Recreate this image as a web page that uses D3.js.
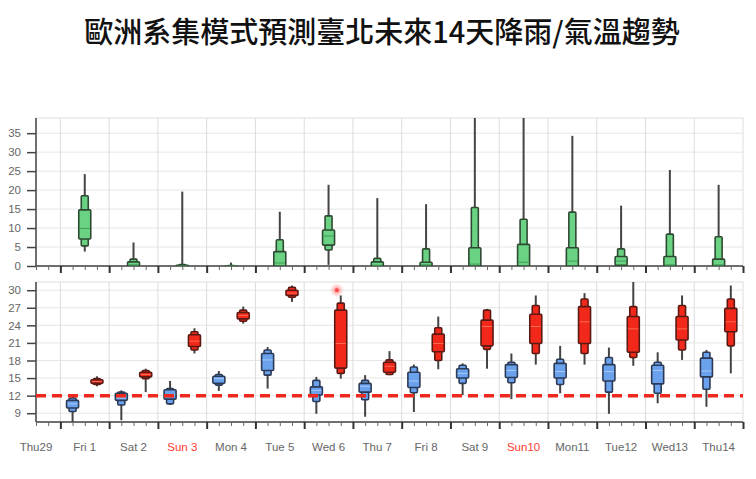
<!DOCTYPE html>
<html><head><meta charset="utf-8">
<script src="https://cdn.jsdelivr.net/npm/d3@7"></script>
<style>
body{margin:0;background:#fff;}
svg{display:block;font-family:"Liberation Sans","DejaVu Sans",sans-serif;}
</style></head>
<body>
<svg id="chart" width="756" height="479"></svg>
<script>
// ---- Data ----
const titleText = "歐洲系集模式預測臺北未來14天降雨/氣溫趨勢";
const dayLabels = ["Thu29","Fri 1","Sat 2","Sun 3","Mon 4","Tue 5","Wed 6","Thu 7","Fri 8","Sat 9","Sun10","Mon11","Tue12","Wed13","Thu14"];
const redDayLabels = ["Sun 3","Sun10"];
const forecastDays = [1,2,3,4,5,6,7,8,9,10,11,12,13,14];
const rainTicks = [0,5,10,15,20,25,30,35];
const tempTicks = [9,12,15,18,21,24,27,30];

// rain (mm) per day: min, p10, p25, median, p75, p90, max
const rainMin = [3.8,0,0,0,0,0.3,0,0,0,0,0,0,0,0];
const rainP10 = [5.3,0,0,0,0,4.2,0,0,0,0,0,0,0,0];
const rainP25 = [7.1,0,0,0,0,5.5,0,0,0,0,0,0.2,0,0];
const rainMed = [9.9,0.3,0,0,0.8,7.9,0.2,0.3,0.5,1.0,1.3,1.3,0.3,0.3];
const rainP75 = [14.8,1.1,0.2,0,3.8,9.5,1.1,1.0,4.8,5.7,4.8,2.5,2.5,1.8];
const rainP90 = [18.5,1.8,0.4,0.1,6.9,13.2,2.0,4.5,15.4,12.3,14.2,4.5,8.4,7.7];
const rainMax = [24.2,6.2,19.6,0.9,14.3,21.4,17.9,16.3,40,40,34.3,15.9,25.3,21.4];

// minimum temperature (°C)
const tminMin = [7.0,7.8,10.4,12.8,13.2,8.9,8.4,9.2,12.1,11.4,12.4,8.9,10.7,10.1];
const tminP10 = [9.3,10.4,10.6,13.8,15.5,11.0,11.3,12.5,14.1,14.2,13.9,12.6,12.4,13.1];
const tminP25 = [9.9,11.2,11.4,14.1,16.3,12.1,12.6,13.4,15.0,15.1,15.0,14.5,14.0,15.2];
const tminMed = [10.6,11.6,12.2,14.9,18.1,12.9,13.6,14.5,15.8,16.3,16.1,16.1,16.3,16.2];
const tminP75 = [11.2,12.4,13.0,15.3,19.2,13.5,14.1,16.0,16.6,17.3,17.5,17.3,17.2,18.4];
const tminP90 = [11.6,12.6,13.2,15.6,19.8,14.6,14.6,16.9,17.2,17.7,18.2,18.5,17.7,19.4];
const tminMax = [12.0,12.9,14.5,16.2,20.3,15.2,15.5,17.3,17.5,19.2,20.5,20.2,19.4,19.8];

// maximum temperature (°C)
const tmaxMin = [13.6,12.6,19.2,24.3,28.0,14.9,15.5,16.5,16.6,17.3,17.3,17.1,18.1,15.8];
const tmaxP10 = [13.9,14.9,19.8,24.7,28.8,15.8,15.6,18.0,19.9,19.2,19.2,18.5,19.8,20.5];
const tmaxP25 = [14.1,15.2,20.4,25.1,29.1,16.7,16.0,19.5,20.5,20.9,20.9,19.4,21.5,22.9];
const tmaxMed = [14.4,15.6,21.3,25.7,29.5,20.9,17.0,20.9,23.8,23.8,24.6,23.4,23.4,24.6];
const tmaxP75 = [14.7,16.0,22.4,26.2,30.0,26.6,17.7,22.5,24.9,25.9,27.2,25.5,25.5,26.9];
const tmaxP90 = [14.9,16.3,22.9,26.6,30.5,27.8,18.1,23.6,26.6,27.4,28.5,27.2,27.4,28.5];
const tmaxMax = [15.3,16.6,23.5,27.2,30.8,29.1,19.6,25.5,26.8,29.1,29.5,32,29.1,30.8];

const thresholdTemp = 12;
const highlightPoint = {day: 6.67, value: 30};

// ---- Layout ----
const svg = d3.select("#chart");
const L = 36, R = 743;
const top1 = 118, bot1 = 266, top2 = 282, bot2 = 422;

const x = d3.scaleLinear().domain([0.5, 15]).range([L, R]);
const yRain = d3.scaleLinear().domain([0, 39]).range([bot1, top1]);
const yTemp = d3.scaleLinear().domain([7.5, 31.4]).range([bot2, top2]);

svg.append("text").attr("x", 382).attr("y", 43).attr("text-anchor","middle")
  .attr("font-family",'"Noto Sans CJK TC","Noto Sans CJK SC",sans-serif')
  .attr("font-weight",500).attr("font-size",29).attr("fill","#111").text(titleText);

const defs = svg.append("defs");
defs.append("clipPath").attr("id","clip1").append("rect").attr("x",L).attr("y",top1).attr("width",R-L).attr("height",bot1-top1);
defs.append("clipPath").attr("id","clip2").append("rect").attr("x",L).attr("y",top2).attr("width",R-L).attr("height",bot2-top2);
const glow = defs.append("radialGradient").attr("id","glow");
glow.append("stop").attr("offset","0%").attr("stop-color","#ff5050").attr("stop-opacity",0.6);
glow.append("stop").attr("offset","100%").attr("stop-color","#ff5050").attr("stop-opacity",0);

const majorTicks = d3.range(1, 16);
const minorTicks = d3.range(0.5, 15.01, 0.25).filter(t => Math.abs(t - Math.round(t)) > 1e-6);

function panel(y, top, bot, ticks, clipId) {
  const g = svg.append("g");
  g.append("rect").attr("x",L).attr("y",top).attr("width",R-L).attr("height",bot-top)
    .attr("fill","none").attr("stroke","#e2dcdc").attr("stroke-width",1);
  g.selectAll(".hg").data(ticks).join("line")
    .attr("x1",L).attr("x2",R).attr("y1",d=>y(d)).attr("y2",d=>y(d))
    .attr("stroke","#e6e6e6").attr("stroke-width",1);
  g.selectAll(".vg").data(majorTicks.filter(t=>t<15)).join("line")
    .attr("x1",d=>x(d)).attr("x2",d=>x(d)).attr("y1",top).attr("y2",bot)
    .attr("stroke","#dcdcdc").attr("stroke-width",1);
  const ya = svg.append("g").attr("transform",`translate(${L},0)`)
    .call(d3.axisLeft(y).tickValues(ticks).tickSize(9).tickPadding(6));
  ya.select(".domain").attr("stroke","#444").attr("stroke-width",1.5);
  ya.selectAll(".tick line").attr("stroke","#444").attr("stroke-width",1.5);
  ya.selectAll("text").attr("fill","#666").attr("font-size",11.5);
  ya.select(".domain").attr("d",`M0,${top}V${bot}`);
  const xa = svg.append("g").attr("transform",`translate(0,${bot})`)
    .call(d3.axisBottom(x).tickValues(majorTicks).tickSize(7).tickFormat(""));
  xa.select(".domain").attr("stroke","#444").attr("stroke-width",1.5).attr("d",`M${L},0H${R}`);
  xa.selectAll(".tick line").attr("stroke","#333").attr("stroke-width",2);
  const xm = svg.append("g").attr("transform",`translate(0,${bot})`)
    .call(d3.axisBottom(x).tickValues(minorTicks).tickSize(4).tickFormat(""));
  xm.select(".domain").remove();
  xm.selectAll(".tick line").attr("stroke","#666").attr("stroke-width",1);
  return svg.append("g").attr("clip-path",`url(#${clipId})`);
}

const g1 = panel(yRain, top1, bot1, rainTicks, "clip1");
const g2 = panel(yTemp, top2, bot2, tempTicks, "clip2");

function boxes(g, y, offset, arrs, fill, stroke, medColor) {
  const [mn,p10,p25,med,p75,p90,mx] = arrs;
  const data = forecastDays.map((d,i)=>({t:d+offset, mn:mn[i], p10:p10[i], p25:p25[i], med:med[i], p75:p75[i], p90:p90[i], mx:mx[i]}));
  const gg = g.append("g");
  const item = gg.selectAll("g").data(data).join("g");
  item.append("line").attr("x1",d=>x(d.t)).attr("x2",d=>x(d.t))
    .attr("y1",d=>y(d.mx)).attr("y2",d=>y(d.mn)).attr("stroke","#444").attr("stroke-width",2);
  const wo = 7, wi = 12;
  item.append("rect").attr("x",d=>x(d.t)-wo/2).attr("width",wo)
    .attr("y",d=>y(d.p90)).attr("height",d=>Math.max(0.5,y(d.p10)-y(d.p90)))
    .attr("rx",1).attr("fill",fill).attr("stroke",stroke).attr("stroke-width",1.6);
  item.append("rect").attr("x",d=>x(d.t)-wi/2).attr("width",wi)
    .attr("y",d=>y(d.p75)).attr("height",d=>Math.max(0.5,y(d.p25)-y(d.p75)))
    .attr("rx",1).attr("fill",fill).attr("stroke",stroke).attr("stroke-width",1.6);
  item.append("line").attr("x1",d=>x(d.t)-wi/2+1).attr("x2",d=>x(d.t)+wi/2-1)
    .attr("y1",d=>y(d.med)).attr("y2",d=>y(d.med)).attr("stroke",medColor).attr("stroke-width",1);
}

boxes(g1, yRain, 0.5, [rainMin,rainP10,rainP25,rainMed,rainP75,rainP90,rainMax], "#6ad383", "#2f4a33", "#3f9a55");
boxes(g2, yTemp, 0.25, [tminMin,tminP10,tminP25,tminMed,tminP75,tminP90,tminMax], "#6aa2ee", "#2c3a55", "#a9c9f5");
boxes(g2, yTemp, 0.75, [tmaxMin,tmaxP10,tmaxP25,tmaxMed,tmaxP75,tmaxP90,tmaxMax], "#f2291a", "#5a1a14", "#ff6a55");

g2.append("line").attr("x1",L).attr("x2",R).attr("y1",yTemp(thresholdTemp)).attr("y2",yTemp(thresholdTemp))
  .attr("stroke","#f0281e").attr("stroke-width",3.5).attr("stroke-dasharray","10,6");

g2.append("circle").attr("cx",x(highlightPoint.day)).attr("cy",yTemp(highlightPoint.value)).attr("r",7).attr("fill","url(#glow)");
g2.append("circle").attr("cx",x(highlightPoint.day)).attr("cy",yTemp(highlightPoint.value)).attr("r",2.5).attr("fill","#ff4a4a").attr("stroke","#ffb0b0").attr("stroke-width",1);

svg.append("g").selectAll("text").data(dayLabels).join("text")
  .attr("x",(d,i)=>x(i+0.5)).attr("y",451).attr("text-anchor","middle")
  .attr("font-size",11.5).attr("fill",d=>redDayLabels.includes(d)?"#ff3b2f":"#666").text(d=>d);
</script>
</body></html>
